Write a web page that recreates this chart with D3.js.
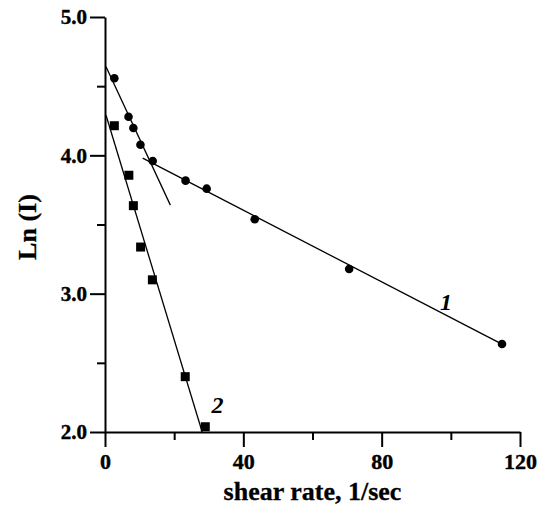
<!DOCTYPE html>
<html>
<head>
<meta charset="utf-8">
<script src="https://cdn.jsdelivr.net/npm/d3@7"></script>
<style>
  body { margin: 0; background: #fff; }
  text { font-family: "Liberation Serif", "Times New Roman", serif; font-weight: bold; }
</style>
</head>
<body>
<svg id="chart" width="539" height="506"></svg>
<script>
// series 1 (circles) and series 2 (squares)
var rate1 = [2.7, 6.8, 8.2, 10.25, 13.8, 23.3, 29.4, 43.3, 70.6, 114.8];
var lnI1  = [4.557, 4.279, 4.198, 4.077, 3.959, 3.817, 3.759, 3.538, 3.178, 2.636];
var rate2 = [2.7, 6.9, 8.2, 10.3, 13.7, 23.2, 29.0];
var lnI2  = [4.214, 3.856, 3.636, 3.337, 3.10, 2.40, 2.038];

// fitted straight lines: [x, y] end points
var fit1a = [[0.3, 4.64], [18.9, 3.64]];
var fit1b = [[10.9, 3.98], [115.2, 2.63]];
var fit2  = [[0.3, 4.29], [28.1, 2.0]];

var xTicks = [0, 40, 80, 120];
var xMinor = [20, 60, 100];
var yTicks = [2, 3, 4, 5];
var yMinor = [2.5, 3.5, 4.5];

var svg = d3.select("#chart");

var x = d3.scaleLinear().domain([0, 120]).range([105, 520]);
var y = d3.scaleLinear().domain([2, 5]).range([432, 17]);

// axes
var xAxis = svg.append("g").attr("transform", "translate(0," + y(2) + ")")
  .call(d3.axisBottom(x).tickValues(xTicks).tickFormat(d3.format("d"))
    .tickSize(15).tickPadding(6).tickSizeOuter(0));
svg.append("g").attr("transform", "translate(0," + y(2) + ")")
  .call(d3.axisBottom(x).tickValues(xMinor).tickFormat("").tickSize(8).tickSizeOuter(0))
  .select(".domain").remove();

var yAxis = svg.append("g").attr("transform", "translate(" + x(0) + ",0)")
  .call(d3.axisLeft(y).tickValues(yTicks).tickFormat(d3.format(".1f"))
    .tickSize(15).tickPadding(3).tickSizeOuter(0));
svg.append("g").attr("transform", "translate(" + x(0) + ",0)")
  .call(d3.axisLeft(y).tickValues(yMinor).tickFormat("").tickSize(8).tickSizeOuter(0))
  .select(".domain").remove();

svg.selectAll(".domain, .tick line").attr("stroke", "#000").attr("stroke-width", 2);
xAxis.selectAll(".tick text").attr("font-size", 22).attr("fill", "#000")
  .attr("stroke", "#000").attr("stroke-width", 0.4);
yAxis.selectAll(".tick text").attr("font-size", 21).attr("fill", "#000")
  .attr("stroke", "#000").attr("stroke-width", 0.4);

// axis titles
svg.append("text")
  .attr("x", (x(0) + x(120)) / 2 + 0).attr("y", 500)
  .attr("text-anchor", "middle").attr("font-size", 26)
  .attr("stroke", "#000").attr("stroke-width", 0.3)
  .text("shear rate, 1/sec");
svg.append("text")
  .attr("transform", "translate(36," + 227 + ") rotate(-90)")
  .attr("text-anchor", "middle").attr("font-size", 26)
  .attr("stroke", "#000").attr("stroke-width", 0.3)
  .text("Ln (I)");

// fitted lines
var line = d3.line().x(function(d) { return x(d[0]); }).y(function(d) { return y(d[1]); });
[fit1a, fit1b, fit2].forEach(function(f) {
  svg.append("path").attr("d", line(f))
    .attr("fill", "none").attr("stroke", "#000").attr("stroke-width", 1.3);
});

// points
svg.selectAll(".circ").data(d3.zip(rate1, lnI1)).enter()
  .append("circle").attr("class", "circ")
  .attr("cx", function(d) { return x(d[0]); })
  .attr("cy", function(d) { return y(d[1]); })
  .attr("r", 4.3).attr("fill", "#000");

var s = 9;
svg.selectAll(".sq").data(d3.zip(rate2, lnI2)).enter()
  .append("rect").attr("class", "sq")
  .attr("x", function(d) { return x(d[0]) - s / 2; })
  .attr("y", function(d) { return y(d[1]) - s / 2; })
  .attr("width", s).attr("height", s).attr("fill", "#000");

// series labels
svg.append("text").attr("x", x(98.6)).attr("y", y(2.88))
  .attr("text-anchor", "middle").attr("font-size", 24).attr("font-style", "italic")
  .text("1");
svg.append("text").attr("x", x(32.5)).attr("y", y(2.135))
  .attr("text-anchor", "middle").attr("font-size", 24).attr("font-style", "italic")
  .text("2");
</script>
</body>
</html>
